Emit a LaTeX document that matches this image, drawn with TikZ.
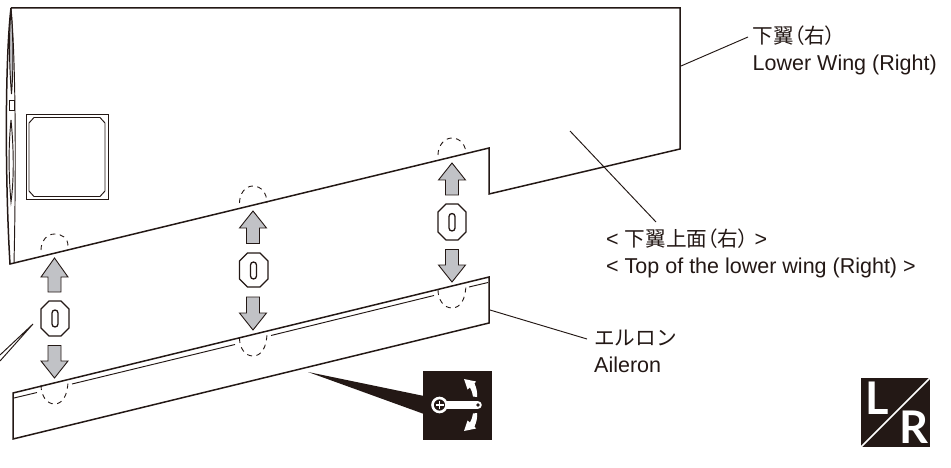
\documentclass[tikz,border=0pt]{standalone}
\usepackage{fontspec}
\setmainfont{Liberation Sans}
\newfontfamily\cjk[Scale=0.96]{Noto Sans CJK JP}
\newfontfamily\cjkp[Scale=0.96,RawFeature=+palt]{Noto Sans CJK JP}
\newfontfamily\lrfont{Lato}

\definecolor{inkblack}{HTML}{231815}
\definecolor{arrowgray}{HTML}{C1C2C6}

\tikzset{
	wingline/.style = {draw=inkblack, line width=1.5pt, line join=miter},
	thinline/.style = {draw=inkblack, line width=0.95pt},
	dashline/.style = {draw=inkblack, line width=0.9pt, dash pattern=on 5pt off 4.5pt},
	movearrow/.style = {draw=inkblack, line width=0.9pt, fill=arrowgray, line join=miter},
	screwbox/.style = {draw=inkblack, line width=1.3pt, fill=white},
	caption/.style = {anchor=base west, inner sep=0pt, text=inkblack, font=\fontsize{21.5}{24}\selectfont},
	iconletter/.style = {inner sep=0pt, text=white, font=\lrfont\bfseries\fontsize{45}{45}\selectfont}
}

\begin{document}
\begin{tikzpicture}[x=1pt, y=-1pt]
	\useasboundingbox (0, 0) rectangle (951, 468);

	% lower wing
	\draw[wingline] (11, 8) -- (680, 8) -- (680, 149) -- (489, 194) -- (489, 148) -- (10, 264) .. controls (5, 180) and (5, 60) .. (11, 8);
	\draw[thinline] (11, 8) .. controls (16, 60) and (16, 180) .. (14, 263);
	\draw[thinline, fill=arrowgray] (11, 10) .. controls (8.5, 40) and (9.5, 70) .. (11.5, 94) .. controls (13.5, 70) and (13.5, 40) .. (11, 10);
	\draw[thinline] (9, 100) rectangle (14, 110);
	\draw[thinline] (11, 120) .. controls (8, 150) and (9, 180) .. (11, 202) .. controls (14, 180) and (14, 150) .. (11, 120);

	\draw[thinline] (26, 114.5) rectangle (108, 199.5);
	\draw[thinline] (34, 117.5) -- (100, 117.5) -- (105, 123) -- (105, 191) -- (100, 196.5) -- (34, 196.5) -- (29, 191) -- (29, 123) -- cycle;

	% aileron
	\draw[wingline] (489, 277) -- (13, 393) -- (13, 439) -- (489, 323) -- cycle;
	\draw[thinline] (14, 398) -- (37, 392.5);
	\draw[thinline] (72, 384) -- (235, 344.5);
	\draw[thinline] (271, 335.5) -- (434, 295.5);
	\draw[thinline] (469, 287) -- (488, 282.5);

	% dashed outlines of the hinges
	\draw[dashline] (41, 250) .. controls (41, 241) and (47, 234) .. (54.5, 234) .. controls (62, 234) and (68, 238) .. (68, 246);
	\draw[dashline] (239.5, 203) .. controls (239.5, 194) and (245, 186) .. (253, 186) .. controls (261, 186) and (267, 193) .. (267, 203);
	\draw[dashline] (438, 155) .. controls (438, 146) and (444, 138) .. (452, 138) .. controls (460, 138) and (466, 145) .. (466, 154);
	\draw[dashline] (41, 385) .. controls (41, 396) and (47, 404) .. (54.5, 404) .. controls (62, 404) and (68, 396) .. (68, 380);
	\draw[dashline] (239.5, 338) .. controls (239.5, 348) and (245, 356) .. (253, 356) .. controls (261, 356) and (267, 348) .. (267, 332);
	\draw[dashline] (438, 290) .. controls (438, 300) and (444, 308) .. (452, 308) .. controls (460, 308) and (466, 300) .. (466, 283);

	% arrows
	\draw[movearrow] (54.5, 258) -- (68, 277) -- (61, 277) -- (61, 292) -- (48, 292) -- (48, 277) -- (41, 277) -- cycle;
	\draw[movearrow] (253, 211) -- (266.5, 228) -- (259.5, 228) -- (259.5, 243.5) -- (246.5, 243.5) -- (246.5, 228) -- (239.5, 228) -- cycle;
	\draw[movearrow] (452, 163) -- (465.5, 180) -- (458.5, 180) -- (458.5, 195) -- (445.5, 195) -- (445.5, 180) -- (438.5, 180) -- cycle;
	\draw[movearrow] (54.5, 378) -- (68, 361) -- (61, 361) -- (61, 345.5) -- (48, 345.5) -- (48, 361) -- (41, 361) -- cycle;
	\draw[movearrow] (253, 330) -- (266.5, 313) -- (259.5, 313) -- (259.5, 297) -- (246.5, 297) -- (246.5, 313) -- (239.5, 313) -- cycle;
	\draw[movearrow] (452, 282) -- (465.5, 265) -- (458.5, 265) -- (458.5, 249.5) -- (445.5, 249.5) -- (445.5, 265) -- (438.5, 265) -- cycle;

	% clearance marks
	\draw[screwbox] (49, 301) -- (61, 301) -- (69, 309) -- (69, 328) -- (61, 336) -- (49, 336) -- (41, 328) -- (41, 309) -- cycle;
	\draw[screwbox] (247.5, 253) -- (260, 253) -- (268, 261) -- (268, 279) -- (260, 287) -- (247.5, 287) -- (239.5, 279) -- (239.5, 261) -- cycle;
	\draw[screwbox] (446, 204) -- (458, 204) -- (466, 212) -- (466, 232) -- (458, 240) -- (446, 240) -- (438, 232) -- (438, 212) -- cycle;
	\draw[screwbox, fill=none, rounded corners=3pt] (52, 310) rectangle (58, 327);
	\draw[screwbox, fill=none, rounded corners=3pt] (250.5, 262) rectangle (256.5, 279);
	\draw[screwbox, fill=none, rounded corners=3pt] (449, 213.5) rectangle (455, 231);

	% reference to the control horn
	\fill[inkblack] (308, 372) -- (424, 396) -- (424, 414) -- cycle;
	\fill[inkblack] (423, 371) rectangle (492, 440);
	\draw[white, line width=8.6pt, line cap=round] (445, 405) -- (477.5, 405);
	\fill[inkblack] (478, 405) circle (1.8);
	\draw[white, line width=2.6pt, fill=inkblack] (439.5, 405) circle (7);
	\draw[white, line width=1.5pt] (435.5, 405) -- (443.5, 405);
	\draw[white, line width=1.5pt] (439.5, 401) -- (439.5, 409);
	\fill[white] (464, 379) -- (476, 381.5) -- (474.5, 383.5) .. controls (476.5, 388) and (477.5, 392) .. (477, 397) -- (473, 396.5) .. controls (472.5, 393) and (471.5, 390) .. (470, 387.5) -- (467.5, 389.5) -- cycle;
	\fill[white] (464, 431) -- (476, 428.5) -- (474.5, 426.5) .. controls (476.5, 422) and (477.5, 418) .. (477, 413) -- (473, 413.5) .. controls (472.5, 417) and (471.5, 420) .. (470, 422.5) -- (467.5, 420.5) -- cycle;

	% left / right mark
	\fill[inkblack] (861, 378) rectangle (930, 447);
	\node[iconletter] (markL) at (877, 398.5) {L};
	\node[iconletter] (markR) at (913.5, 427) {R};
	\draw[white, line width=1.6pt] (861, 447) -- (930, 378);

	% labels
	\node[caption] (wingjp) at (752.5, 44) {\cjk 下翼\cjkp（右）};
	\node[caption] (wingen) at (752.5, 70.5) {Lower Wing (Right)};
	\node[caption] (topjp) at (606, 246) {< \cjk 下翼上面\cjkp（右）\rmfamily{} >};
	\node[caption] (topen) at (606, 273) {< Top of the lower wing (Right) >};
	\node[caption] (aileronjp) at (594, 345) {\cjk エルロン};
	\node[caption] (aileronen) at (594, 372.5) {Aileron};

	% leaders
	\coordinate (wingedge) at (681, 66);
	\coordinate (wingtip) at (748, 37);
	\coordinate (topface) at (570, 131);
	\coordinate (toptip) at (656, 222);
	\coordinate (aileronedge) at (490, 310);
	\coordinate (ailerontip) at (587, 339);
	\coordinate (sidetip) at (33, 324);
	\coordinate (sideleft) at (0, 355);
	\coordinate (sideright) at (0, 361);
	\draw[thinline] (wingedge) -- (wingtip);
	\draw[thinline] (topface) -- (toptip);
	\draw[thinline] (aileronedge) -- (ailerontip);
	\draw[thinline] (sideleft) -- (sidetip) -- (sideright);
\end{tikzpicture}
\end{document}
